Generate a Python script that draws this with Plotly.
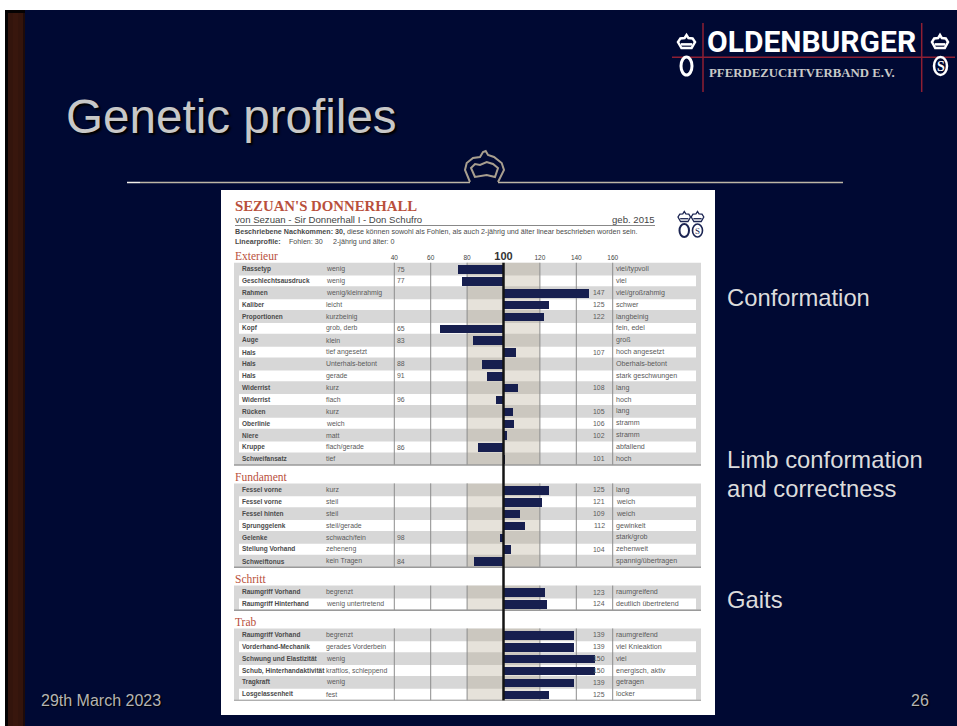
import plotly.graph_objects as go

# sections of the linear profile
sections = ["Exterieur", "Fundament", "Schritt", "Trab"]

exterieur_traits = ["Rassetyp", "Geschlechtsausdruck", "Rahmen", "Kaliber", "Proportionen", "Kopf", "Auge", "Hals",
                    "Hals", "Hals", "Widerrist", "Widerrist", "Rücken", "Oberlinie", "Niere", "Kruppe", "Schweifansatz"]
exterieur_low = ["wenig", "wenig", "wenig/kleinrahmig", "leicht", "kurzbeinig", "grob, derb", "klein", "tief angesetzt",
                 "Unterhals-betont", "gerade", "kurz", "flach", "kurz", "weich", "matt", "flach/gerade", "tief"]
exterieur_high = ["viel/typvoll", "viel", "viel/großrahmig", "schwer", "langbeinig", "fein, edel", "groß", "hoch angesetzt",
                  "Oberhals-betont", "stark geschwungen", "lang", "hoch", "lang", "stramm", "stramm", "abfallend", "hoch"]
exterieur_values = [75, 77, 147, 125, 122, 65, 83, 107, 88, 91, 108, 96, 105, 106, 102, 86, 101]

fundament_traits = ["Fessel vorne", "Fessel vorne", "Fessel hinten", "Sprunggelenk", "Gelenke", "Stellung Vorhand", "Schweiftonus"]
fundament_low = ["kurz", "steil", "steil", "steil/gerade", "schwach/fein", "zeheneng", "kein Tragen"]
fundament_high = ["lang", "weich", "weich", "gewinkelt", "stark/grob", "zehenweit", "spannig/übertragen"]
fundament_values = [125, 121, 109, 112, 98, 104, 84]

schritt_traits = ["Raumgriff Vorhand", "Raumgriff Hinterhand"]
schritt_low = ["begrenzt", "wenig untertretend"]
schritt_high = ["raumgreifend", "deutlich übertretend"]
schritt_values = [123, 124]

trab_traits = ["Raumgriff Vorhand", "Vorderhand-Mechanik", "Schwung und Elastizität", "Schub, Hinterhandaktivität", "Tragkraft", "Losgelassenheit"]
trab_low = ["begrenzt", "gerades Vorderbein", "wenig", "kraftlos, schleppend", "wenig", "fest"]
trab_high = ["raumgreifend", "viel Knieaktion", "viel", "energisch, aktiv", "getragen", "locker"]
trab_values = [139, 139, 150, 150, 139, 125]

tick_values = [40, 60, 80, 100, 120, 140, 160]
tick_labels = ["40", "60", "80", '<b><span style="font-size:11px;color:#333">100</span></b>', "120", "140", "160"]

all_traits = [exterieur_traits, fundament_traits, schritt_traits, trab_traits]
all_low = [exterieur_low, fundament_low, schritt_low, trab_low]
all_high = [exterieur_high, fundament_high, schritt_high, trab_high]
all_values = [exterieur_values, fundament_values, schritt_values, trab_values]

W, H = 957, 726
NAVY = "#000933"
BAR = "#171F4F"
RED = "#B9503C"
ICON = "#1B2452"

# row scale of the table: 11.87 px a row, 31 px across a section break
ROW_PX = 11.87
SECTION_GAP = 31 / ROW_PX
TABLE_LEFT, TABLE_RIGHT, TABLE_TOP, TABLE_BOTTOM = 234, 701, 262.5, 700.7
PX_PER_UNIT = 1.82
X100 = 503.5

shapes = []
annotations = []


def rect(x0, y0, x1, y1, fill, xref="x", yref="y", layer="below"):
    shapes.append(dict(type="rect", x0=x0, y0=y0, x1=x1, y1=y1, xref=xref, yref=yref, layer=layer,
                       fillcolor=fill, line=dict(width=0)))


def line(x0, y0, x1, y1, color, width=1, xref="x", yref="y", layer="below"):
    shapes.append(dict(type="line", x0=x0, y0=y0, x1=x1, y1=y1, xref=xref, yref=yref, layer=layer,
                       line=dict(color=color, width=width)))


def path(d, color, width=1, fill="rgba(0,0,0,0)"):
    shapes.append(dict(type="path", path=d, xref="x", yref="y", layer="below", fillcolor=fill,
                       line=dict(color=color, width=width)))


def ring(x0, y0, x1, y1, color, width):
    shapes.append(dict(type="circle", x0=x0, y0=y0, x1=x1, y1=y1, xref="x", yref="y", layer="below",
                       fillcolor="rgba(0,0,0,0)", line=dict(color=color, width=width)))


def label(x, y, text, size, color, family="Liberation Sans", anchor="left", yref="y", shadow=None):
    font = dict(size=size, color=color, family=family)
    if shadow:
        font["shadow"] = shadow
    annotations.append(dict(x=x, y=y, xref="x", yref=yref, text=text, showarrow=False, font=font,
                            xanchor=anchor, yanchor="middle", borderpad=0, borderwidth=0))


def crown(cx, top, w, h, color, width):
    pts = [(-.3, 1), (-.5, .55), (-.36, .26), (-.12, .24), (0, 0), (.12, .24), (.36, .26), (.5, .55), (.3, 1)]
    d = "M" + " L".join(f"{cx + a * w:.1f},{top + b * h:.1f}" for a, b in pts) + " Z"
    path(d, color, width)
    line(cx - .33 * w, top + .72 * h, cx + .33 * w, top + .72 * h, color, width)


# slide background
rect(0, 0, W, H, "white")
rect(5, 10, W, H, NAVY)
rect(5, 10, 25, H, "#050203")
rect(8, 13, 25, H, "#33140C")
rect(13, 13, 18, H, "#38160D")
rect(23, 13, 25, H, "#1E0B0A")

# logo
line(672, 57.3, 955, 57.3, "#8E1F33", 1.5)
line(703, 23, 703, 92, "#8E1F33", 1.5)
line(921.7, 23, 921.7, 92, "#8E1F33", 1.5)
crown(686.5, 35, 17, 13, "white", 2.5)
ring(681, 57, 692, 75, "white", 3)
crown(940, 35, 16, 13, "white", 2.5)
ring(934, 57, 947, 75, "white", 2.5)
label(940.5, 66, "<b>S</b>", 14, "white", "Liberation Serif", "center")
label(707, 41, "<b>OLDENBURGER</b>", 30, "white", "Roboto")
label(709, 72.7, "<b>PFERDEZUCHTVERBAND E.V.</b>", 12.8, "#C9C9C9", "Liberation Serif")

# slide title and the rule with the crown
label(66, 116, "Genetic profiles", 47.6, "#C8C8C8", shadow="2px 2px 2px #000")
line(127, 182.5, 140, 182.5, "#F2F0EA", 1.5)
line(140, 182.5, 470, 182.5, "#BDB6A6", 1.5)
line(498, 182.5, 843, 182.5, "#BDB6A6", 1.5)
path("M470,182 L465,170 L466.7,163 L473,158 L480,157 L483,152 L485.7,151 L488,155 L494,157 L501.7,163 "
     "L504,170 L498,182", "#A89F8F", 2)
path("M475,177 L471,168 L475,164 L480,165 L486.7,162 L493,164 L498,168 L495,177 L486.7,175 Z", "#A89F8F", 2)

# side notes and footer
label(727, 297, "Conformation", 23.8, "#DCDCDC")
label(727, 459, "Limb conformation", 23.8, "#DCDCDC")
label(727, 488, "and correctness", 23.8, "#DCDCDC")
label(727, 599, "Gaits", 23.8, "#DCDCDC")
label(41, 700, "29th March 2023", 16, "#B4B4B4", shadow="1px 1px 1px #000")
label(929, 700, "26", 16, "#B4B4B4", anchor="right", shadow="1px 1px 1px #000")

# white card with the header of the sheet
rect(221, 190, 715, 715, "white")
label(235, 205.5, "<b>SEZUAN'S DONNERHALL</b>", 14.8, RED, "Liberation Serif")
label(235, 219, "von Sezuan - Sir Donnerhall I - Don Schufro", 9.6, "#444444")
label(655, 219, "geb. 2015", 9.6, "#444444", anchor="right")
line(235, 225.5, 655, 225.5, "#888888", 1)
label(235, 232, "<b>Beschriebene Nachkommen: 30,</b> diese können sowohl als Fohlen, als auch 2-jährig und älter linear beschrieben worden sein.",
      7.15, "#4A4A4A")
label(235, 242, "<b>Linearprofile:</b>", 7.15, "#4A4A4A")
label(289, 242, "Fohlen: 30", 7.15, "#4A4A4A")
label(333, 242, "2-jährig und älter: 0", 7.15, "#4A4A4A")
crown(684.3, 211.5, 12.5, 10, ICON, 1.3)
ring(679.5, 224, 689, 237, ICON, 2)
crown(697.5, 211.5, 12.5, 10, ICON, 1.3)
ring(692.5, 224, 702.5, 237, ICON, 1.6)
label(697.5, 230.5, "S", 9, ICON, "Liberation Serif", "center")

# table rows, placed on the row axis
rows_y, rows_delta = [], []
pos = 0.0
val_x_low, val_x_high = 397, 605
x_l = 100 + (TABLE_LEFT - X100) / PX_PER_UNIT
x_r = 100 + (TABLE_RIGHT - X100) / PX_PER_UNIT
inset = 5 / PX_PER_UNIT
for s, name in enumerate(sections):
    traits, low, high, values = all_traits[s], all_low[s], all_high[s], all_values[s]
    first, last = pos, pos + len(traits) - 1
    top, bottom = first - .55, last + .52
    rect(x_l, top, x_r, bottom, "#D7D7D7", "x2", "y2")
    for i in range(len(traits)):
        y = first + i
        if i % 2:
            rect(x_l + inset, y - .46, x_r - inset, y + .46, "white", "x2", "y2")
        label(242, y, f"<b>{traits[i]}</b>", 6.5, "#4A4A4A", yref="y2")
        label(325.5, y, low[i], 6.9, "#5A5A5A", yref="y2")
        label(616, y, high[i], 7.1, "#5A5A5A", yref="y2")
        if values[i] < 100:
            label(val_x_low, y, str(values[i]), 6.9, "#5A5A5A", yref="y2")
        else:
            label(val_x_high, y, str(values[i]), 6.9, "#5A5A5A", anchor="right", yref="y2")
        rows_y.append(y)
        rows_delta.append(values[i] - 100)
    rect(80, top, 120, bottom, "rgba(182,170,147,0.34)", "x2", "y2")
    for t in tick_values:
        if t != 100:
            line(t, top, t, bottom, "#8C8C8C", 1, "x2", "y2")
    line(x_l, bottom, x_r, bottom, "#9A9A9A", 1.5, "x2", "y2")
    # the first title lies above the row axis, so titles go on the page axis
    label(235, TABLE_TOP + (top + .55) * ROW_PX - 6.5, name, 11.5, RED, "Liberation Serif")
    pos = last + SECTION_GAP
last_row = rows_y[-1]

line(100, -.55, 100, last_row + .52, "#141414", 2.5, "x2", "y2", layer="above")

fig = go.Figure()
fig.add_trace(go.Bar(y=rows_y, x=rows_delta, base=100, orientation="h", width=0.72, xaxis="x2", yaxis="y2",
                     marker=dict(color=BAR, line=dict(width=0)), hoverinfo="skip", showlegend=False))

fig.update_layout(
    width=W, height=H, autosize=False, margin=dict(l=0, r=0, t=0, b=0, pad=0),
    paper_bgcolor="white", plot_bgcolor="rgba(0,0,0,0)", showlegend=False,
    xaxis=dict(domain=[0, 1], range=[0, W], visible=False, fixedrange=True, anchor="y"),
    yaxis=dict(domain=[0, 1], range=[H, 0], visible=False, fixedrange=True, anchor="x"),
    xaxis2=dict(domain=[TABLE_LEFT / W, TABLE_RIGHT / W], anchor="y2", side="top",
                range=[x_l, x_r],
                tickmode="array", tickvals=tick_values, ticktext=tick_labels, ticks="", showgrid=False,
                zeroline=False, showline=False, tickfont=dict(size=6.5, color="#444444", family="Liberation Sans"),
                fixedrange=True),
    yaxis2=dict(domain=[1 - TABLE_BOTTOM / H, 1 - TABLE_TOP / H], anchor="x2",
                range=[last_row + (TABLE_BOTTOM - 694.3) / ROW_PX, -.55], showticklabels=False, ticks="",
                showgrid=False, zeroline=False, showline=False, fixedrange=True),
    shapes=shapes, annotations=annotations, bargap=0,
)

fig.write_html("out.html", config=dict(displayModeBar=False), post_script="document.body.style.margin='0';")
